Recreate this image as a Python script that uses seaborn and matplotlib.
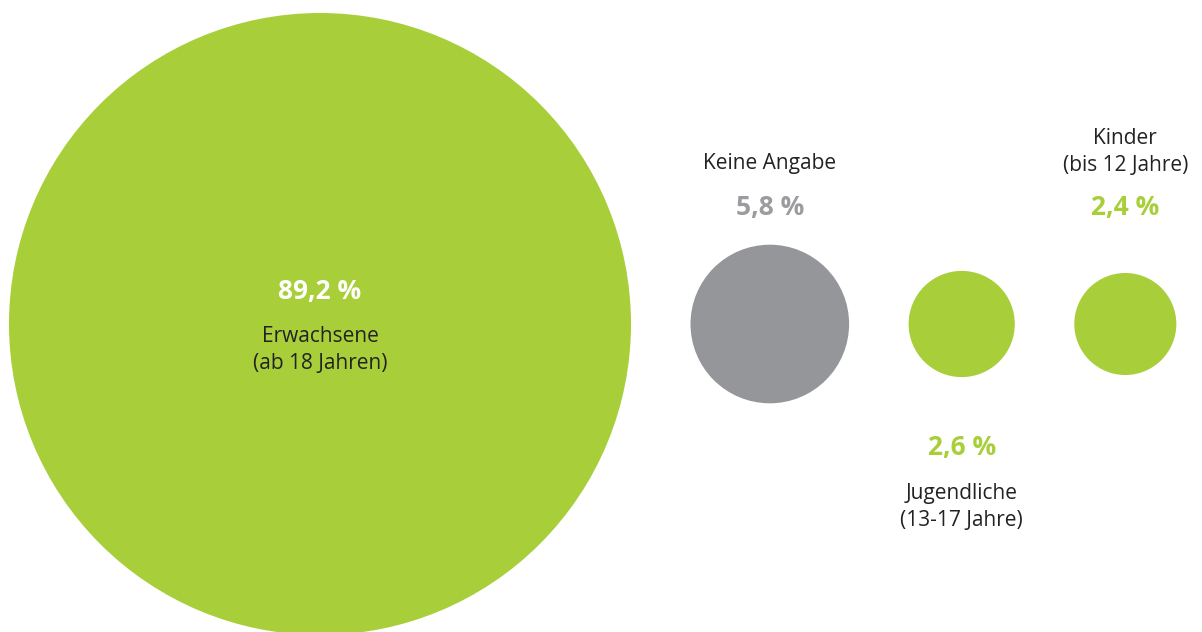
import numpy as np
import pandas as pd
import seaborn as sns
import matplotlib.pyplot as plt

# data
groups = ["Erwachsene", "Keine Angabe", "Jugendliche", "Kinder"]
labels = ["Erwachsene\n(ab 18 Jahren)", "Keine Angabe", "Jugendliche\n(13-17 Jahre)", "Kinder\n(bis 12 Jahre)"]
shares = [89.2, 5.8, 2.6, 2.4]
share_text = ["89,2 %", "5,8 %", "2,6 %", "2,4 %"]

GREEN = "#a8cf3a"
GRAY = "#959699"
colors = {"Erwachsene": GREEN, "Keine Angabe": GRAY, "Jugendliche": GREEN, "Kinder": GREEN}
num_colors = ["white", "#9b9c9f", GREEN, GREEN]

W, H, DPI = 1202, 632, 100
sns.set_theme(style="white")
plt.rcParams["font.family"] = ["Open Sans", "DejaVu Sans"]

# circle area proportional to share, packed left to right with a fixed gap
r_max = 311
radius = r_max * np.sqrt(np.array(shares) / max(shares))
gap = 59.5
xs = []
edge = 9
for r in radius:
    xs.append(edge + r)
    edge += 2 * r + gap
yc = 324

df = pd.DataFrame({"group": groups, "x": xs, "y": yc, "r": radius})
df["s"] = (2 * df["r"] * 72 / DPI) ** 2

fig = plt.figure(figsize=(W / DPI, H / DPI), dpi=DPI)
ax = fig.add_axes([0, 0, 1, 1])
sns.scatterplot(data=df, x="x", y="y", hue="group", palette=colors, s=df["s"].values,
                linewidth=0, legend=False, ax=ax)
ax.set_xlim(0, W)
ax.set_ylim(H, 0)
ax.set_axis_off()

lab_kw = dict(ha="center", va="center", fontsize=15, color="#222222", linespacing=1.4)
num_kw = dict(ha="center", va="center", fontsize=19, fontweight="bold")

# Erwachsene: inside the big circle
ax.text(xs[0], 292, share_text[0], color=num_colors[0], **num_kw)
ax.text(xs[0], 350, labels[0], **lab_kw)
# Keine Angabe: above
ax.text(xs[1], 164, labels[1], **lab_kw)
ax.text(xs[1], 207, share_text[1], color=num_colors[1], **num_kw)
# Jugendliche: below
ax.text(xs[2], 447, share_text[2], color=num_colors[2], **num_kw)
ax.text(xs[2], 507, labels[2], **lab_kw)
# Kinder: above
ax.text(xs[3], 152, labels[3], **lab_kw)
ax.text(xs[3], 207, share_text[3], color=num_colors[3], **num_kw)

fig.savefig("out.png", dpi=DPI)
